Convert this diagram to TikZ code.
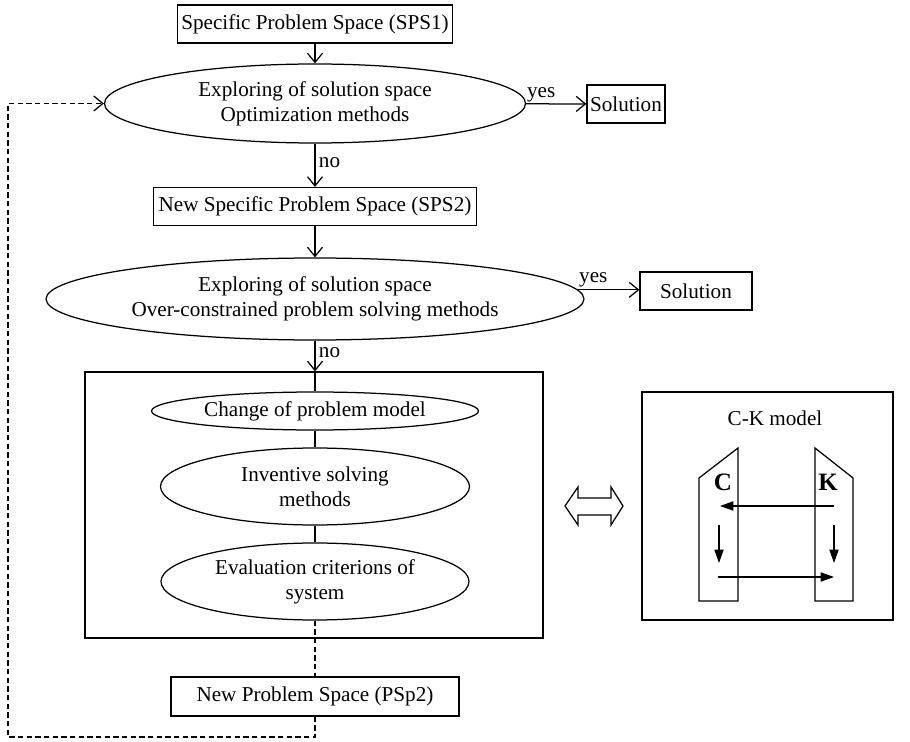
\documentclass[tikz,border=0pt]{standalone}
\usepackage{fontspec}
\setmainfont{Liberation Serif}
\usetikzlibrary{arrows.meta,shapes}

\begin{document}
\begin{tikzpicture}[x=0.6pt,y=-0.6pt,line width=0.75pt,>={Straight Barb[length=5.5pt,width=9pt]},
        every node/.style={font=\fontsize{12.7}{15}\selectfont}]
        \tikzstyle{space}=[rectangle,draw,fill=white,inner sep=1pt,minimum height=22.8pt]
        \tikzstyle{explore}=[ellipse,draw,align=center,inner sep=0pt]
        \tikzstyle{frame}=[rectangle,draw,inner sep=0pt]
        \tikzstyle{pre}=[<-]
        \tikzstyle{loopback}=[dash pattern=on 3.2pt off 2pt]
        \tikzstyle{ckarrow}=[-{Triangle[length=8pt,width=5.5pt]}]
        \useasboundingbox (0,0) rectangle (910,742);

        \node [space, minimum width=165pt] (sps1) at (315,24) {Specific Problem Space (SPS1)}; %SPS1
        \node [explore, minimum width=252.6pt, minimum height=47.4pt] (ell1) at (315,103.5)
            {Exploring of solution space\\Optimization methods}
            edge [pre] (sps1);
        \node [space, minimum width=46.8pt] (sol1) at (626,104) {Solution}
            edge [pre] node [above, pos=0.75, inner sep=1pt] {yes} (ell1);
        \node [space, minimum width=193.8pt] (sps2) at (315,206.5) {New Specific Problem Space (SPS2)}
            edge [pre] node [right, pos=0.55, inner sep=2pt] {no} (ell1); %SPS2
        \node [explore, minimum width=322.8pt, minimum height=49.2pt] (ell2) at (315,299)
            {Exploring of solution space\\Over-constrained problem solving methods}
            edge [pre] (sps2);
        \node [space, minimum width=67.2pt] (sol2) at (696,291) {Solution};
        \draw [->] (ell2.2) -- node [above, pos=0.25, inner sep=1pt] {yes} (ell2.2 -| sol2.west);

        % inventive part
        \node [frame, minimum width=274.8pt, minimum height=159.6pt] (box) at (314,505) {};
        \draw [->] (ell2.south) -- node [right, pos=0.4, inner sep=2pt] {no} (ell2.south |- box.north);
        \node [explore, minimum width=196.2pt, minimum height=22.8pt] (change) at (315,411) {Change of problem model};
        \node [explore, minimum width=185.4pt, minimum height=46.2pt] (invent) at (315,486.5) {Inventive solving\\methods};
        \node [explore, minimum width=184.8pt, minimum height=46.2pt] (eval) at (315,581.5) {Evaluation criterions of\\system};
        \draw (change.north |- box.north) -- (change.north);
        \draw (change.south) -- (invent.north);
        \draw (invent.south) -- (eval.north);

        \node [space, minimum width=172.8pt, minimum height=23.4pt] (psp2) at (315,696.5) {New Problem Space (PSp2)};
        \coordinate (corner) at (8,737);
        \draw [loopback] (eval.south) -- (psp2.north);
        \draw [loopback,->] (psp2.south) -- (psp2.south |- corner) -- (corner) |- (ell1.west);

        % C-K model
        \node [frame, minimum width=150.6pt, minimum height=136.8pt] (ck) at (767.5,506) {};
        \node (cklabel) at (775,418) {C-K model};
        \draw (699,601) -- (699,478) -- (738,448) -- (738,601) -- cycle; %C
        \draw (815,601) -- (815,448) -- (853,478) -- (853,601) -- cycle; %K
        \node [font=\fontsize{15}{15}\selectfont\bfseries] (c) at (723,482) {C};
        \node [font=\fontsize{15}{15}\selectfont\bfseries] (k) at (828,482) {K};
        \coordinate (kout) at (834,506);
        \coordinate (cin) at (720,506);
        \coordinate (ctop) at (719,525);
        \coordinate (cbot) at (719,563);
        \coordinate (ktop) at (834,525);
        \coordinate (kbot) at (834,563);
        \coordinate (cout) at (718,577);
        \coordinate (kin) at (834,577);
        \draw [ckarrow] (kout) -- (cin);
        \draw [ckarrow] (ctop) -- (cbot);
        \draw [ckarrow] (ktop) -- (kbot);
        \draw [ckarrow] (cout) -- (kin);

        % hollow double arrow
        \draw (565,506) -- (578,487) -- (578,498) -- (611,498) -- (611,487) -- (623,506)
            -- (611,525) -- (611,515) -- (578,515) -- (578,525) -- cycle;
\end{tikzpicture}
\end{document}
